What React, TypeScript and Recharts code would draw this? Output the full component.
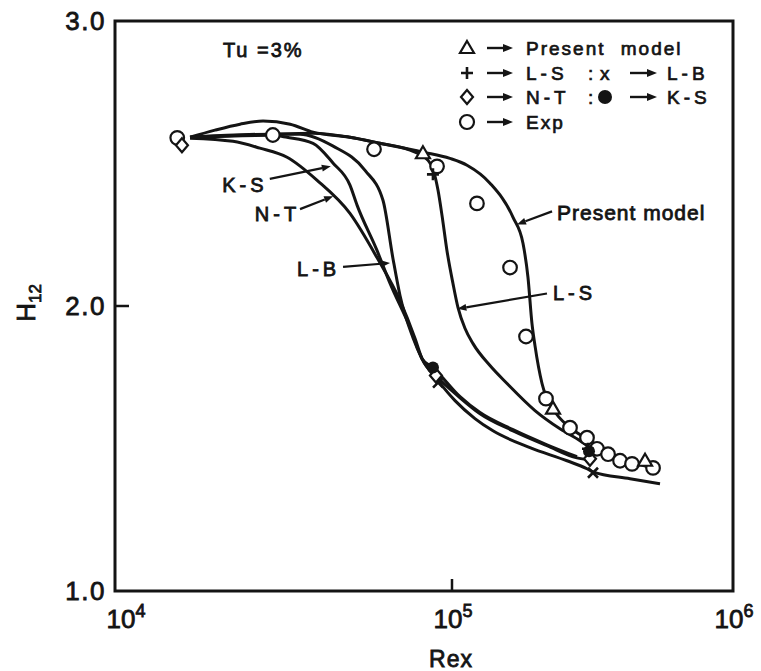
import React from 'react';
import {
  ComposedChart,
  Line,
  Scatter,
  XAxis,
  YAxis,
  ReferenceArea,
  ReferenceLine,
  ReferenceDot,
  Legend,
  Label,
} from 'recharts';

type Pt = [number, number];

// Axes
const X_DOMAIN: [number, number] = [1e4, 1e6];
const X_TICKS = [1e4, 1e5, 1e6];
const Y_DOMAIN: [number, number] = [1, 3];
const Y_TICKS = [1.0, 2.0, 3.0];

// Computed shape factor H12 against Rex, Tu = 3%
const PRESENT_MODEL: Pt[] = [
  [16700, 2.592], [19800, 2.617], [23500, 2.638], [27500, 2.649], [33100, 2.638],
  [38700, 2.61], [49800, 2.592], [61100, 2.571], [82000, 2.54], [98600, 2.518],
  [113100, 2.494], [136500, 2.431], [164900, 2.311], [178900, 2.22], [186400, 2.1],
  [192600, 1.938], [197400, 1.861], [209100, 1.728], [228800, 1.64], [263000, 1.573],
  [302300, 1.534], [365100, 1.483], [430100, 1.455], [549900, 1.425],
];

const L_S: Pt[] = [
  [16700, 2.592], [23500, 2.599], [29400, 2.603], [38700, 2.606], [49800, 2.592],
  [61100, 2.571], [75100, 2.547], [84900, 2.511], [88400, 2.469], [90900, 2.406],
  [93400, 2.318], [96600, 2.195], [100800, 2.079], [105000, 1.995], [111300, 1.921],
  [118800, 1.868], [136500, 1.791], [157000, 1.728], [197400, 1.633], [242300, 1.569],
  [285500, 1.527], [309800, 1.503],
];

const N_T: Pt[] = [
  [16700, 2.589], [22400, 2.578], [26900, 2.554], [32400, 2.522], [39800, 2.441],
  [49800, 2.325], [59900, 2.17], [70100, 2.019], [77700, 1.886], [81500, 1.815],
  [89600, 1.756], [106800, 1.678], [125800, 1.622], [164900, 1.562], [217800, 1.51],
  [278500, 1.467], [309800, 1.46],
];

const K_S: Pt[] = [
  [16700, 2.592], [29400, 2.599], [32400, 2.592], [38700, 2.571], [44400, 2.501],
  [49800, 2.424], [52300, 2.353], [59900, 2.195], [65500, 2.079], [75100, 1.924],
  [81500, 1.815], [87800, 1.784], [106800, 1.682], [125800, 1.626], [164900, 1.566],
  [217800, 1.513], [278500, 1.471],
];

const L_B: Pt[] = [
  [16700, 2.592], [29400, 2.603], [35400, 2.603], [44400, 2.561], [55200, 2.476],
  [62400, 2.371], [66800, 2.167], [70100, 2.037], [76600, 1.889], [81500, 1.815],
  [90900, 1.738], [102500, 1.668], [120700, 1.605], [139900, 1.562], [189500, 1.503],
  [256700, 1.457], [302300, 1.429], [317500, 1.418], [430100, 1.394], [549900, 1.376],
];

// Measured values
const EXP: Pt[] = [
  [15300, 2.59], [29400, 2.6], [58700, 2.55], [90300, 2.49], [122700, 2.36],
  [160900, 2.135], [183400, 1.893], [216000, 1.675], [263000, 1.573], [302300, 1.538],
  [328100, 1.499], [359200, 1.48], [396300, 1.457], [437200, 1.446], [519300, 1.432],
];

// Symbols marking computed stations
const PM_MARKS: Pt[] = [[82000, 2.536], [228800, 1.64], [486400, 1.457]];
const LS_MARKS: Pt[] = [[87800, 2.462], [304800, 1.499]];
const LB_MARKS: Pt[] = [[90900, 1.731], [317500, 1.415]];
const NT_MARKS: Pt[] = [[15800, 2.564], [89600, 1.756], [309800, 1.464]];
const KS_MARKS: Pt[] = [[87800, 1.784], [307300, 1.49]];

const CURVES = [
  { name: 'Present model', points: PRESENT_MODEL },
  { name: 'L-S', points: L_S },
  { name: 'N-T', points: N_T },
  { name: 'K-S', points: K_S },
  { name: 'L-B', points: L_B },
];

// Curve call-outs: text anchor and pointer (from -> tip), in data units
const CALLOUTS = [
  { text: 'K-S', at: [20800, 2.425] as Pt, from: [28800, 2.446] as Pt, to: [43700, 2.49] as Pt, size: 20, spacing: 4 },
  { text: 'N-T', at: [26000, 2.323] as Pt, from: [35400, 2.34] as Pt, to: [44400, 2.385] as Pt, size: 20, spacing: 4 },
  { text: 'L-B', at: [34700, 2.13] as Pt, from: [47500, 2.137] as Pt, to: [65500, 2.151] as Pt, size: 20, spacing: 4 },
  { text: 'L-S', at: [228800, 2.047] as Pt, from: [217800, 2.044] as Pt, to: [104500, 1.99] as Pt, size: 20, spacing: 4 },
  { text: 'Present model', at: [236400, 2.329] as Pt, from: [227000, 2.332] as Pt, to: [170300, 2.286] as Pt, size: 21, spacing: 1 },
];
const CONDITION_TEXT = 'Tu =3%';
const CONDITION_AT: Pt = [20900, 2.9];

const INK = '#141414';
const FONT = '"Liberation Sans", Arial, Helvetica, sans-serif';
const textStyle: React.CSSProperties = { fontFamily: FONT };
const TEXT_STROKE = 0.8;

const toRows = (pts: Pt[]) => pts.map(([re, h]) => ({ re, h }));

// The printed logarithmic axis has unequal decade lengths; this scale
// reproduces it piecewise (decade exponents -> fraction of axis length).
const DECADE_EXP = [4, 5, 6];
const DECADE_FRAC = [0, 0.5453, 1];

function makePrintedLogScale(): any {
  let dom: number[] = [...X_DOMAIN];
  let rng: number[] = [0, 1];
  const frac = (v: number) => {
    const L = Math.log10(Math.max(Number(v), 1e-12));
    const i = L < DECADE_EXP[1] ? 0 : 1;
    const t = (L - DECADE_EXP[i]) / (DECADE_EXP[i + 1] - DECADE_EXP[i]);
    return DECADE_FRAC[i] + t * (DECADE_FRAC[i + 1] - DECADE_FRAC[i]);
  };
  const unfrac = (f: number) => {
    const i = f < DECADE_FRAC[1] ? 0 : 1;
    const t = (f - DECADE_FRAC[i]) / (DECADE_FRAC[i + 1] - DECADE_FRAC[i]);
    return Math.pow(10, DECADE_EXP[i] + t * (DECADE_EXP[i + 1] - DECADE_EXP[i]));
  };
  const scale: any = (v: number) => rng[0] + (rng[1] - rng[0]) * frac(v);
  scale.domain = (d?: number[]) => {
    if (d === undefined) return dom.slice();
    dom = d.map(Number);
    return scale;
  };
  scale.range = (r?: number[]) => {
    if (r === undefined) return rng.slice();
    rng = r.map(Number);
    return scale;
  };
  scale.invert = (px: number) => unfrac((px - rng[0]) / (rng[1] - rng[0]));
  scale.copy = () => makePrintedLogScale().domain(dom).range(rng);
  scale.ticks = () => X_TICKS.slice();
  scale.tickFormat = () => (v: number) => String(v);
  scale.clamp = () => scale;
  scale.nice = () => scale;
  return scale;
}
const printedLogScale = makePrintedLogScale();

// Marker shapes
const OpenCircle = ({ cx, cy }: any) => (
  <circle cx={cx} cy={cy} r={6.8} fill="#fff" stroke={INK} strokeWidth={2.2} />
);
const OpenTriangle = ({ cx, cy }: any) => (
  <path d={`M${cx},${cy - 7} L${cx + 7},${cy + 5} L${cx - 7},${cy + 5} Z`} fill="#fff" stroke={INK} strokeWidth={2.2} />
);
const PlusMark = ({ cx, cy }: any) => (
  <path d={`M${cx - 6},${cy} H${cx + 6} M${cx},${cy - 6} V${cy + 6}`} stroke={INK} strokeWidth={2.6} fill="none" />
);
const CrossMark = ({ cx, cy }: any) => (
  <path d={`M${cx - 5},${cy - 5} L${cx + 5},${cy + 5} M${cx + 5},${cy - 5} L${cx - 5},${cy + 5}`} stroke={INK} strokeWidth={2.6} fill="none" />
);
const OpenDiamond = ({ cx, cy }: any) => (
  <path d={`M${cx},${cy - 7} L${cx + 6},${cy} L${cx},${cy + 7} L${cx - 6},${cy} Z`} fill="#fff" stroke={INK} strokeWidth={2.2} />
);
const FilledDot = ({ cx, cy }: any) => <circle cx={cx} cy={cy} r={6} fill={INK} />;

const Arrow = ({ x1, x2, y }: { x1: number; x2: number; y: number }) => (
  <g>
    <line x1={x1} y1={y} x2={x2 - 8} y2={y} stroke={INK} strokeWidth={2.4} />
    <path d={`M${x2},${y} L${x2 - 10},${y - 4} L${x2 - 10},${y + 4} Z`} fill={INK} />
  </g>
);

// Pointer line with a small arrowhead at its tip
const Pointer = (props: any) => {
  const { x1, y1, x2, y2 } = props;
  const ang = Math.atan2(y2 - y1, x2 - x1);
  const len = 9;
  const half = 3.5;
  const bx = x2 - len * Math.cos(ang);
  const by = y2 - len * Math.sin(ang);
  const px = -Math.sin(ang) * half;
  const py = Math.cos(ang) * half;
  return (
    <g>
      <line x1={x1} y1={y1} x2={bx} y2={by} stroke={INK} strokeWidth={2.2} />
      <path d={`M${x2},${y2} L${bx + px},${by + py} L${bx - px},${by - py} Z`} fill={INK} />
    </g>
  );
};

const XTick = (props: any) => {
  const { x, y, payload } = props;
  const v = Number(payload.value);
  const exp = Math.round(Math.log10(v));
  const inner = v > X_DOMAIN[0] && v < X_DOMAIN[1];
  const shift = v === X_DOMAIN[0] ? 11 : 1;
  return (
    <g>
      {inner && <line x1={x} y1={y} x2={x} y2={y - 12} stroke={INK} strokeWidth={2.5} />}
      <text
        x={x + shift}
        y={y + 37}
        textAnchor="middle"
        fill={INK}
        stroke={INK}
        strokeWidth={TEXT_STROKE}
        fontSize={26}
        style={textStyle}
      >
        10
        <tspan dy={-11} fontSize={18}>
          {exp}
        </tspan>
      </text>
    </g>
  );
};

const YTick = (props: any) => {
  const { x, y, payload } = props;
  const v = Number(payload.value);
  const inner = v > Y_DOMAIN[0] && v < Y_DOMAIN[1];
  return (
    <g>
      {inner && <line x1={x} y1={y} x2={x + 14} y2={y} stroke={INK} strokeWidth={2.5} />}
      <text
        x={x - 9}
        y={y + 9}
        textAnchor="end"
        fill={INK}
        stroke={INK}
        strokeWidth={TEXT_STROKE}
        fontSize={26}
        letterSpacing={1.5}
        style={textStyle}
      >
        {v.toFixed(1)}
      </text>
    </g>
  );
};

const LEGEND_FONT = 19;
const LegendBox = () => {
  const rows = [14, 39, 63, 88];
  const sym = 15;
  const t = 74;
  const tprops = {
    fill: INK,
    stroke: INK,
    strokeWidth: 0.7,
    fontSize: LEGEND_FONT,
    style: textStyle,
  };
  return (
    <svg width={290} height={104} style={{ display: 'block', overflow: 'visible' }}>
      <OpenTriangle cx={sym} cy={rows[0]} />
      <Arrow x1={35} x2={61} y={rows[0]} />
      <text x={t} y={rows[0] + 7} letterSpacing={2} wordSpacing={8} {...tprops}>
        Present model
      </text>

      <PlusMark cx={sym} cy={rows[1]} />
      <Arrow x1={35} x2={61} y={rows[1]} />
      <text x={t} y={rows[1] + 7} letterSpacing={4} {...tprops}>L-S</text>
      <text x={136} y={rows[1] + 7} {...tprops}>:</text>
      <text x={148} y={rows[1] + 7} {...tprops}>x</text>
      <Arrow x1={178} x2={205} y={rows[1]} />
      <text x={215} y={rows[1] + 7} letterSpacing={4} {...tprops}>L-B</text>

      <OpenDiamond cx={sym} cy={rows[2]} />
      <Arrow x1={35} x2={61} y={rows[2]} />
      <text x={t} y={rows[2] + 7} letterSpacing={4} {...tprops}>N-T</text>
      <text x={136} y={rows[2] + 7} {...tprops}>:</text>
      <circle cx={153} cy={rows[2]} r={7} fill={INK} />
      <Arrow x1={178} x2={205} y={rows[2]} />
      <text x={215} y={rows[2] + 7} letterSpacing={4} {...tprops}>K-S</text>

      <circle cx={sym} cy={rows[3]} r={7} fill="#fff" stroke={INK} strokeWidth={2.2} />
      <Arrow x1={35} x2={61} y={rows[3]} />
      <text x={t} y={rows[3] + 7} letterSpacing={2} {...tprops}>Exp</text>
    </svg>
  );
};

const makeTextShape = (text: string, size: number, spacing: number) => (p: any) => (
  <text
    x={p.cx}
    y={p.cy + size * 0.36}
    fill={INK}
    stroke={INK}
    strokeWidth={TEXT_STROKE}
    fontSize={size}
    letterSpacing={spacing}
    style={textStyle}
  >
    {text}
  </text>
);

export default function App() {
  return (
    <div style={{ position: 'absolute', left: 0, top: 0, width: 761, height: 671, background: '#fff' }}>
      <ComposedChart width={761} height={671} margin={{ top: 21, right: 28, left: 15, bottom: 40 }}>
        <XAxis
          dataKey="re"
          type="number"
          scale={printedLogScale}
          domain={X_DOMAIN}
          ticks={X_TICKS}
          interval={0}
          allowDataOverflow
          axisLine={false}
          tickLine={false}
          tickSize={0}
          tickMargin={0}
          height={40}
          tick={(p: any) => <XTick {...p} />}
        >
          <Label
            content={(p: any) => {
              const vb = p.viewBox || { x: 115, y: 591, width: 618, height: 40 };
              return (
                <text
                  x={vb.x + vb.width / 2 + 27}
                  y={vb.y + 76}
                  textAnchor="middle"
                  fill={INK}
                  stroke={INK}
                  strokeWidth={TEXT_STROKE}
                  fontSize={23}
                  letterSpacing={1}
                  style={textStyle}
                >
                  Rex
                </text>
              );
            }}
          />
        </XAxis>
        <YAxis
          dataKey="h"
          type="number"
          domain={Y_DOMAIN}
          ticks={Y_TICKS}
          interval={0}
          allowDataOverflow
          axisLine={false}
          tickLine={false}
          tickSize={0}
          tickMargin={0}
          width={100}
          tick={(p: any) => <YTick {...p} />}
        >
          <Label
            content={(p: any) => {
              const vb = p.viewBox || { x: 15, y: 21, width: 100, height: 570 };
              const cx = vb.x + 20;
              const cy = vb.y + vb.height / 2 - 3;
              return (
                <text
                  x={cx}
                  y={cy}
                  transform={`rotate(-90 ${cx} ${cy})`}
                  textAnchor="middle"
                  fill={INK}
                  stroke={INK}
                  strokeWidth={TEXT_STROKE}
                  fontSize={26}
                  style={textStyle}
                >
                  H
                  <tspan dy={6} fontSize={17}>
                    12
                  </tspan>
                </text>
              );
            }}
          />
        </YAxis>

        <ReferenceArea
          x1={X_DOMAIN[0]}
          x2={X_DOMAIN[1]}
          y1={Y_DOMAIN[0]}
          y2={Y_DOMAIN[1]}
          fill="none"
          stroke={INK}
          strokeWidth={3}
          ifOverflow="visible"
        />

        {CURVES.map((c) => (
          <Line
            key={c.name}
            name={c.name}
            data={toRows(c.points)}
            dataKey="h"
            type="monotone"
            stroke={INK}
            strokeWidth={3}
            dot={false}
            activeDot={false}
            isAnimationActive={false}
          />
        ))}

        <Scatter name="Exp" data={toRows(EXP)} dataKey="h" shape={OpenCircle} isAnimationActive={false} />
        <Scatter name="Present model marks" data={toRows(PM_MARKS)} dataKey="h" shape={OpenTriangle} isAnimationActive={false} />
        <Scatter name="L-S marks" data={toRows(LS_MARKS)} dataKey="h" shape={PlusMark} isAnimationActive={false} />
        <Scatter name="L-B marks" data={toRows(LB_MARKS)} dataKey="h" shape={CrossMark} isAnimationActive={false} />
        <Scatter name="N-T marks" data={toRows(NT_MARKS)} dataKey="h" shape={OpenDiamond} isAnimationActive={false} />
        <Scatter name="K-S marks" data={toRows(KS_MARKS)} dataKey="h" shape={FilledDot} isAnimationActive={false} />

        {CALLOUTS.map((c) => (
          <ReferenceLine
            key={`ptr-${c.text}`}
            segment={[
              { x: c.from[0], y: c.from[1] },
              { x: c.to[0], y: c.to[1] },
            ]}
            stroke={INK}
            ifOverflow="visible"
            shape={Pointer}
          />
        ))}
        {CALLOUTS.map((c) => (
          <ReferenceDot
            key={`lbl-${c.text}`}
            x={c.at[0]}
            y={c.at[1]}
            r={0}
            ifOverflow="visible"
            shape={makeTextShape(c.text, c.size, c.spacing)}
          />
        ))}
        <ReferenceDot
          x={CONDITION_AT[0]}
          y={CONDITION_AT[1]}
          r={0}
          ifOverflow="visible"
          shape={makeTextShape(CONDITION_TEXT, 20, 2)}
        />

        <Legend
          layout="horizontal"
          align="center"
          verticalAlign="middle"
          content={() => <LegendBox />}
          wrapperStyle={{ position: 'absolute', top: 34, left: 452, width: 290, height: 104 }}
        />
      </ComposedChart>
    </div>
  );
}
